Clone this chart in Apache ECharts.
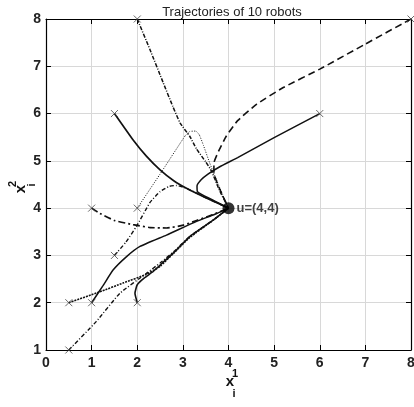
<!DOCTYPE html>
<html>
<head>
<meta charset="utf-8">
<script src="https://cdn.jsdelivr.net/npm/echarts@6/dist/echarts.min.js"></script>
<style>
html,body{margin:0;padding:0;background:#fff;}
#chart{width:414px;height:407px;}
</style>
</head>
<body>
<div id="chart"></div>
<script>
// Data
const chartTitle = 'Trajectories of 10 robots';
const xTicks = [0, 1, 2, 3, 4, 5, 6, 7, 8];
const yTicks = [1, 2, 3, 4, 5, 6, 7, 8];
const target = [4, 4];
const targetLabel = 'u=(4,4)';
const xName = ['x', '1', 'i'];
const yName = ['x', '2', 'i'];

const robotA = [[8,8],[7,7.47],[6,6.94],[5.2,6.55],[4.62,6.2],[4.2,5.85],[3.95,5.52],[3.78,5.2],[3.68,4.95],[3.68,4.75],[3.8,4.42],[4,4]];
const robotB = [[6,6],[5,5.49],[4.2,5.07],[3.8,4.87],[3.55,4.72],[3.4,4.6],[3.31,4.47],[3.32,4.35],[3.45,4.27],[3.7,4.15],[4,4]];
const robotC = [[2,8],[2.28,7.35],[2.57,6.65],[2.78,6.15],[2.94,5.8],[3.15,5.52],[3.3,5.25],[3.5,4.98],[3.63,4.78],[3.8,4.38],[4,4]];
const robotD = [[1.5,6],[1.91,5.44],[2.2,5.1],[2.5,4.81],[2.8,4.58],[3.08,4.42],[3.5,4.22],[4,4]];
const robotE = [[1,4],[1.18,3.89],[1.5,3.74],[1.91,3.65],[2.28,3.59],[2.64,3.58],[3.01,3.64],[3.3,3.74],[3.65,3.86],[4,4]];
const robotF = [[2,4],[2.5,4.72],[3.05,5.53],[3.15,5.62],[3.28,5.63],[3.36,5.55],[3.45,5.33],[3.59,4.95],[3.8,4.45],[4,4]];
const robotG = [[1.5,3],[1.75,3.28],[1.98,3.61],[2.28,4.12],[2.5,4.35],[2.7,4.46],[2.86,4.48],[3.08,4.42],[3.5,4.22],[4,4]];
const robotH = [[1,2],[1.25,2.36],[1.47,2.69],[1.76,2.97],[2.06,3.19],[2.64,3.43],[3.3,3.72],[3.7,3.87],[4,4]];
const robotI = [[0.5,2],[1.18,2.23],[1.7,2.42],[2.2,2.6],[2.5,2.77],[2.8,3.05],[3.15,3.38],[3.67,3.75],[4,4]];
const robotJ = [[0.5,1],[1.1,1.6],[1.62,2.2],[2.2,2.62],[2.5,2.84],[2.8,3.08],[3.15,3.4],[3.67,3.75],[4,4]];
const robotK = [[2,2],[1.95,2.2],[2.0,2.38],[2.15,2.52],[2.35,2.66],[2.55,2.84],[2.8,3.06],[3.15,3.4],[3.67,3.75],[4,4]];

const robots = [
  {data: robotA, type: [7, 4], width: 1.6},
  {data: robotB, type: 'solid', width: 1.5},
  {data: robotC, type: [4, 1.5, 1, 1.5], width: 1.5},
  {data: robotD, type: 'solid', width: 1.7},
  {data: robotE, type: [7, 3, 2, 3], width: 1.7},
  {data: robotF, type: [1, 1.5], width: 1},
  {data: robotG, type: [4, 2, 1, 2], width: 1.4},
  {data: robotH, type: 'solid', width: 1.5},
  {data: robotI, type: [2, 1], width: 1.6},
  {data: robotJ, type: [4, 2, 1, 2], width: 1.4},
  {data: robotK, type: 'solid', width: 1.6}
];

const font = "'Liberation Sans Narrow', 'Liberation Sans', Arial, sans-serif";

const series = robots.map(r => ({
  type: 'line',
  data: r.data,
  smooth: 0.15,
  showSymbol: false,
  silent: true,
  lineStyle: {color: '#111', width: r.width, type: r.type},
  z: 3
}));

series.push({
  type: 'scatter',
  data: robots.map(r => r.data[0]),
  symbol: 'path://M0,0L10,10M0,10L10,0',
  symbolSize: 7,
  itemStyle: {color: 'none', borderColor: '#444', borderWidth: 1},
  z: 4
});

series.push({
  type: 'scatter',
  data: [target],
  symbolSize: 12,
  itemStyle: {color: '#000'},
  label: {show: true, position: 'right', distance: 2, formatter: targetLabel, color: '#111', fontFamily: font, fontSize: 13, fontWeight: 'bold'},
  z: 5
});

function txt(s, x, y, size) {
  return {type: 'text', x: x, y: y, style: {text: s, fill: '#111', font: 'bold ' + size + 'px ' + font, align: 'center', verticalAlign: 'middle'}};
}

const chart = echarts.init(document.getElementById('chart'), null, {renderer: 'canvas'});
chart.setOption({
  animation: false,
  backgroundColor: '#fff',
  title: {
    text: chartTitle, left: 227, top: 1, textAlign: 'center',
    textStyle: {fontFamily: font, fontSize: 13, fontWeight: 'normal', color: '#222'}
  },
  grid: {left: 46, right: 3, top: 19, bottom: 57, containLabel: false, outerBoundsMode: 'none'},
  graphic: [
    {type: 'group', x: 230, y: 382, children: [
      txt(xName[0], 0, 0, 15), txt(xName[1], 5, -8, 11), txt(xName[2], 4, 12, 11)
    ]},
    {type: 'group', x: 21, y: 189, rotation: Math.PI / 2, children: [
      txt(yName[0], 0, 0, 15), txt(yName[1], 5, -8, 11), txt(yName[2], 4, 11, 11)
    ]}
  ],
  xAxis: [{
    type: 'value', min: 0, max: 8, interval: 1,
    axisLine: {show: true, onZero: false, lineStyle: {color: '#000', width: 1.2}},
    axisTick: {show: true, inside: true, length: 5, lineStyle: {color: '#000'}},
    axisLabel: {color: '#222', fontFamily: font, fontSize: 14, fontWeight: 'bold', margin: 6,
      formatter: v => xTicks.includes(v) ? String(v) : ''},
    splitLine: {show: true, lineStyle: {color: '#d8d8d8', width: 1}}
  }, {
    type: 'value', min: 0, max: 8, interval: 1, position: 'top',
    axisLine: {show: true, onZero: false, lineStyle: {color: '#000', width: 1.2}},
    axisTick: {show: true, inside: true, length: 5, lineStyle: {color: '#000'}},
    axisLabel: {show: false}, splitLine: {show: false}
  }],
  yAxis: [{
    type: 'value', min: 1, max: 8, interval: 1,
    axisLine: {show: true, onZero: false, lineStyle: {color: '#000', width: 1.2}},
    axisTick: {show: true, inside: true, length: 5, lineStyle: {color: '#000'}},
    axisLabel: {color: '#222', fontFamily: font, fontSize: 14, fontWeight: 'bold', margin: 5,
      formatter: v => yTicks.includes(v) ? String(v) : ''},
    splitLine: {show: true, lineStyle: {color: '#d8d8d8', width: 1}}
  }, {
    type: 'value', min: 1, max: 8, interval: 1, position: 'right',
    axisLine: {show: true, onZero: false, lineStyle: {color: '#000', width: 1.2}},
    axisTick: {show: true, inside: true, length: 5, lineStyle: {color: '#000'}},
    axisLabel: {show: false}, splitLine: {show: false}
  }],
  series: series
});
</script>
</body>
</html>
